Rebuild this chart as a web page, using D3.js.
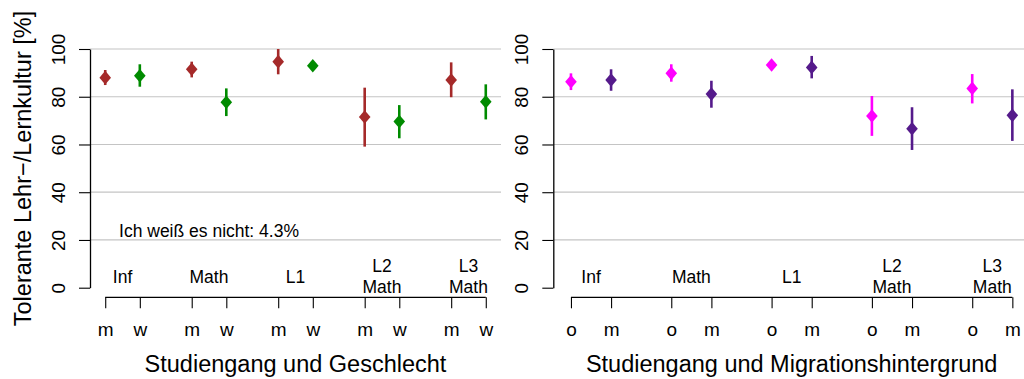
<!DOCTYPE html>
<html>
<head>
<meta charset="utf-8">
<script src="https://cdn.jsdelivr.net/npm/d3@7"></script>
<style>
  body { margin: 0; background: #fff; }
  svg { display: block; font-family: "Liberation Sans", Arial, Helvetica, sans-serif; }
</style>
</head>
<body>
<div id="chart"></div>
<script>
(function () {

// ---- data ----
var groups = ["Inf", "Math", "L1", "L2\nMath", "L3\nMath"];

var genderLevels = ["m", "w"];
var genderMean = [88.0, 88.8, 91.5, 77.7, 94.7, 93.0, 71.5, 69.6, 87.0, 77.9];
var genderLow  = [84.9, 84.2, 88.1, 71.9, 89.4, 91.8, 59.1, 62.6, 79.8, 70.5];
var genderHigh = [91.2, 93.6, 94.7, 83.5, 100.0, 94.2, 83.8, 76.5, 94.4, 85.2];

var migLevels = ["o", "m"];
var migMean = [86.3, 87.0, 89.8, 81.1, 93.3, 92.3, 71.9, 66.6, 83.5, 72.2];
var migLow  = [82.8, 82.5, 86.3, 75.4, 91.5, 87.7, 63.6, 57.7, 77.2, 61.5];
var migHigh = [89.8, 91.5, 93.6, 86.7, 95.0, 97.1, 80.3, 75.6, 89.5, 83.1];

var yTicks = [0, 20, 40, 60, 80, 100];
var gridTicks = [20, 40, 60, 80, 100];

var note = "Ich weiß es nicht: 4.3%";

var width = 1024, height = 379;

var svg = d3.select("#chart").append("svg")
    .attr("width", width)
    .attr("height", height);

svg.append("rect").attr("width", width).attr("height", height).attr("fill", "#fff");

var y = d3.scaleLinear()
    .domain([0, 100])
    .range([287.7, 49]);

// x position of each point: group * 2.5 + level
function pos(i) { return Math.floor(i / 2) * 2.5 + (i % 2); }

function drawPanel (opts) {

	var x = d3.scaleLinear()
		.domain([-0.44, 11.44])
		.range(opts.range);

	var g = svg.append("g");

	// grid
	g.selectAll(".grid")
		.data(gridTicks)
		.enter()
		.append("line")
		.attr("x1", opts.range[0])
		.attr("x2", opts.range[1])
		.attr("y1", function (d) { return y(d); })
		.attr("y2", function (d) { return y(d); })
		.attr("stroke", "#c4c4c4")
		.attr("stroke-width", 1.2);

	// y axis
	var yAxis = d3.axisLeft(y)
		.tickValues(yTicks)
		.tickSize(11)
		.tickSizeOuter(0);

	var ya = g.append("g")
		.attr("transform", "translate(" + opts.range[0] + ",0)")
		.call(yAxis);

	ya.select(".domain").attr("stroke-width", 1.3);
	ya.selectAll(".tick line").attr("stroke-width", 1.1);
	ya.selectAll("text")
		.attr("x", null)
		.attr("dy", null)
		.attr("transform", "translate(-25,0) rotate(-90)")
		.style("text-anchor", "middle")
		.style("font-size", "19px")
		.style("font-family", "Liberation Sans, Arial, sans-serif")
		.attr("fill", "#000");

	// error bars
	var idx = d3.range(opts.mean.length);

	g.selectAll(".ci")
		.data(idx)
		.enter()
		.append("line")
		.attr("x1", function (i) { return x(pos(i)); })
		.attr("x2", function (i) { return x(pos(i)); })
		.attr("y1", function (i) { return y(opts.low[i]); })
		.attr("y2", function (i) { return y(opts.high[i]); })
		.attr("stroke", function (i) { return opts.colors[i % 2]; })
		.attr("stroke-width", 2.6);

	g.selectAll(".pt")
		.data(idx)
		.enter()
		.append("path")
		.attr("d", "M0,-6.8L5.8,0L0,6.8L-5.8,0Z")
		.attr("transform", function (i) {
			return "translate(" + x(pos(i)) + "," + y(opts.mean[i]) + ")";
		})
		.attr("fill", function (i) { return opts.colors[i % 2]; });

	// group labels
	groups.forEach(function (name, gi) {
		var lines = name.split("\n");
		var cx = x(gi * 2.5 + 0.5);
		var base = lines.length === 1 ? 282.5 : 272;
		var t = g.append("text")
			.attr("text-anchor", "middle")
			.style("font-size", "17.5px");
		lines.forEach(function (l, li) {
			t.append("tspan")
				.attr("x", cx)
				.attr("y", base + li * 21.3)
				.text(l);
		});
	});

	// bracket axis
	var positions = idx.map(pos);
	var xAxis = d3.axisBottom(x)
		.tickValues(positions)
		.tickSize(11)
		.tickSizeOuter(0)
		.tickFormat(function (d, i) { return opts.levels[i % 2]; });

	var xa = g.append("g")
		.attr("transform", "translate(0,297.3)")
		.call(xAxis);

	xa.select(".domain").remove();
	xa.append("line")
		.attr("x1", x(positions[0]))
		.attr("x2", x(positions[positions.length - 1]))
		.attr("stroke", "#000")
		.attr("stroke-width", 1.3);
	xa.selectAll(".tick line").attr("stroke-width", 1.1);
	xa.selectAll("text")
		.attr("y", 38.7)
		.attr("dy", null)
		.style("font-size", "19px")
		.style("font-family", "Liberation Sans, Arial, sans-serif")
		.attr("fill", "#000");

	// x title
	g.append("text")
		.attr("x", (opts.range[0] + opts.range[1]) / 2)
		.attr("y", 371.7)
		.attr("text-anchor", "middle")
		.style("font-size", "23.5px")
		.text(opts.title);

	return x;
}

var xL = drawPanel({
	range: [90, 501],
	mean: genderMean, low: genderLow, high: genderHigh,
	levels: genderLevels,
	colors: ["#A52A2A", "#008B00"],
	title: "Studiengang und Geschlecht"
});

drawPanel({
	range: [553.3, 1030],
	mean: migMean, low: migLow, high: migHigh,
	levels: migLevels,
	colors: ["#FF00FF", "#551A8B"],
	title: "Studiengang und Migrationshintergrund"
});

// note inside left panel
svg.append("text")
	.attr("x", xL(3))
	.attr("y", 236.7)
	.attr("text-anchor", "middle")
	.style("font-size", "17.5px")
	.text(note);

// y title
svg.append("text")
	.attr("transform", "translate(31,168.5) rotate(-90)")
	.attr("text-anchor", "middle")
	.style("font-size", "23.5px")
	.text("Tolerante Lehr\u2212/Lernkultur [%]");

})();
</script>
</body>
</html>
